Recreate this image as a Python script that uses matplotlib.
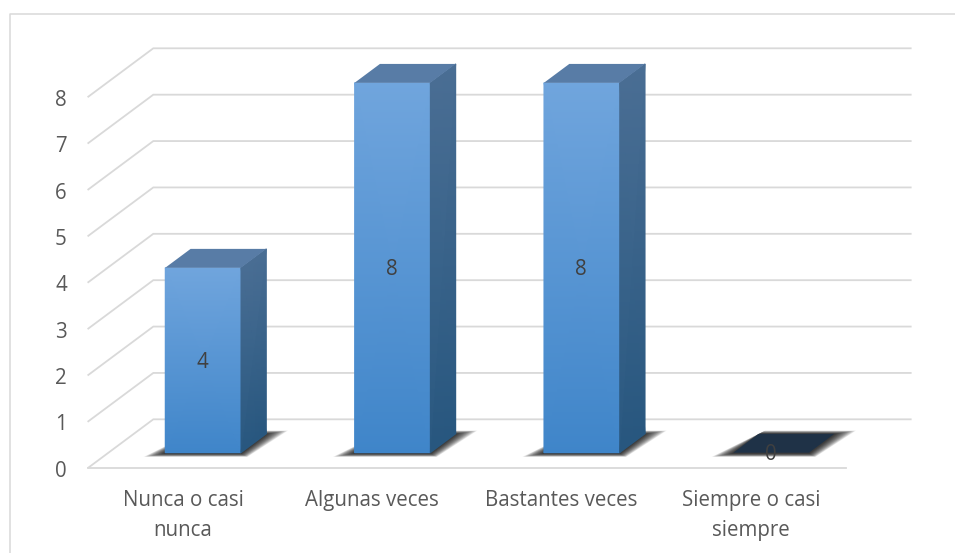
import numpy as np
import matplotlib
matplotlib.use("Agg")
import matplotlib.pyplot as plt
from matplotlib.colors import LinearSegmentedColormap
from matplotlib.lines import Line2D
from matplotlib.patches import Polygon
from matplotlib.transforms import ScaledTranslation

# Datos
categories = ["Nunca o casi\nnunca", "Algunas veces", "Bastantes veces", "Siempre o casi\nsiempre"]
values = [4, 8, 8, 0]
y_ticks = [0, 1, 2, 3, 4, 5, 6, 7, 8]

# Pseudo 3D: lo que se desplaza el fondo respecto al frente, en unidades de datos
DEPTH_X = 65 / 189.35
DEPTH_Y = 48.4 / 46.4
BAR_WIDTH = 0.4
BAR_NEAR = 0.31  # cara frontal de la barra, fraccion de la profundidad
BAR_FAR = 0.70   # cara trasera
BAR_SCALE = 0.997  # la perspectiva encoge un poco las barras

GRID = "#D9D9D9"
TEXT = "#595959"
FONT = "Open Sans"
FS = 14.8

front_cmap = LinearSegmentedColormap.from_list("front", ["#3F85C9", "#70A5DD"])
side_cmap = LinearSegmentedColormap.from_list("side", ["#28577F", "#4A6E94"])


def proj(x, v, d):
    # posicion en el eje para categoria x, valor v y profundidad d (0 a 1)
    return x + d * DEPTH_X, v + d * DEPTH_Y


def gradient_face(ax, bottom_a, bottom_b, top_a, top_b, cmap):
    # cuadrilatero con degradado vertical
    xs = np.array([[bottom_a[0], bottom_b[0]], [top_a[0], top_b[0]]])
    ys = np.array([[bottom_a[1], bottom_b[1]], [top_a[1], top_b[1]]])
    ax.pcolormesh(xs, ys, np.array([[0.0, 0.0], [1.0, 1.0]]), cmap=cmap, vmin=0, vmax=1,
                  shading="gouraud", zorder=4, clip_on=False)


def draw_shadow(ax, left, right):
    # sombra difusa sobre el suelo, capas de poligonos cada vez mas pequenos
    for k in np.linspace(1, 0, 24):
        ex = 0.005 + 0.11 * k
        a = proj(left - ex, -0.02 - 0.07 * k, BAR_NEAR)
        b = proj(right + ex * 0.3, -0.02 - 0.07 * k, BAR_NEAR)
        c = proj(right + ex, 0.0 + 0.07 * k, BAR_FAR)
        d = proj(left + ex * 0.3, 0.0 + 0.07 * k, BAR_FAR)
        ax.add_patch(Polygon([a, b, c, d], closed=True, fc="#000000", ec="none",
                             alpha=0.055, zorder=3, clip_on=False))


fig = plt.figure(figsize=(9.55, 5.53), dpi=100)
ax = fig.add_axes([88.3 / 955, (553 - 467.7) / 553, 757.4 / 955, 419.4 / 553])
for s in ax.spines.values():
    s.set_visible(False)

# Marco del grafico
fig.add_artist(Line2D([9.5 / 955, 9.5 / 955, 1], [0, 1 - 14 / 553, 1 - 14 / 553],
                      color=GRID, lw=1.1, transform=fig.transFigure))

# Rejilla: lineas de fondo y diagonales de la pared izquierda
for v in y_ticks:
    x0, y0 = proj(0, v, 0)
    x1, y1 = proj(0, v, 1)
    x2, y2 = proj(len(categories), v, 1)
    ax.plot([x0, x1, x2], [y0, y1, y2], color=GRID, lw=1.3, clip_on=False, zorder=1,
            solid_joinstyle="miter")
ax.plot([0, len(categories)], [0, 0], color=GRID, lw=1.3, clip_on=False, zorder=1)

# Barras
for i, val in enumerate(values):
    left = i + 0.5 - BAR_WIDTH / 2
    right = i + 0.5 + BAR_WIDTH / 2
    h = val * BAR_SCALE
    draw_shadow(ax, left, right)

    fl = proj(left, 0, BAR_NEAR)
    fr = proj(right, 0, BAR_NEAR)
    tl = proj(left, h, BAR_NEAR)
    tr = proj(right, h, BAR_NEAR)
    br = proj(right, 0, BAR_FAR)
    bt = proj(right, h, BAR_FAR)
    bl = proj(left, h, BAR_FAR)

    if val > 0:
        gradient_face(ax, fl, fr, tl, tr, front_cmap)
        gradient_face(ax, fr, br, tr, bt, side_cmap)
        top_color = "#587CA6"
    else:
        top_color = "#1F3247"
    ax.add_patch(Polygon([tl, tr, bt, bl], closed=True, fc=top_color, ec="none", zorder=5,
                         clip_on=False))

    lx, ly = proj(i + 0.5, h / 2, BAR_NEAR)
    ax.annotate(str(val), (lx, ly), xytext=(-0.5, -1.5), textcoords="offset points",
                ha="center", va="center", fontsize=FS, family=FONT,
                color="#404040", zorder=6)

ax.set_xlim(0, len(categories))
ax.set_ylim(0, 8 + DEPTH_Y)

# Ejes
ax.set_yticks(y_ticks)
ax.set_xticks(np.arange(len(categories)) + 0.5)
ax.set_xticklabels(categories, fontsize=FS, family=FONT, color=TEXT, linespacing=1.58)
ax.set_yticklabels([str(t) for t in y_ticks], fontsize=FS, family=FONT, color=TEXT)
ax.tick_params(axis="both", length=0)
ax.tick_params(axis="x", pad=16)
ax.tick_params(axis="y", pad=15.5)
for lab in ax.get_yticklabels():
    lab.set_transform(lab.get_transform() + ScaledTranslation(0, -0.8 / 72, fig.dpi_scale_trans))

fig.savefig("out.png", dpi=100)
